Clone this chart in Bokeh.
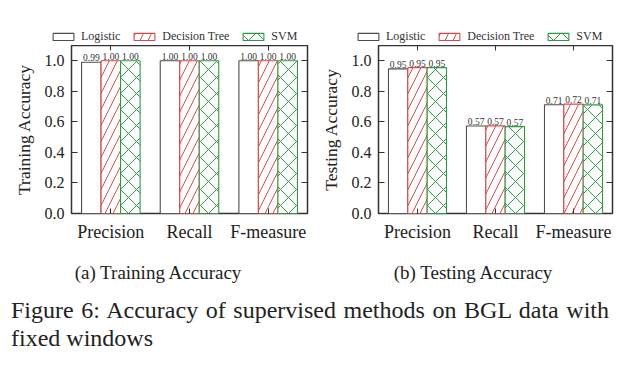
from bokeh.plotting import figure
from bokeh.models import (FactorRange, Range1d, FixedTicker, LinearAxis, CategoricalAxis,
                          Legend, LegendItem, ColumnDataSource, Div, PrintfTickFormatter,
                          CustomJSTickFormatter, Spacer)
from bokeh.transform import dodge
from bokeh.layouts import column, row
from bokeh.embed import file_html
from bokeh.resources import INLINE
from bokeh.core.properties import value

# ---------------- data ----------------
categories = ["Precision", "Recall", "F-measure"]
series_names = ["Logistic", "Decision Tree", "SVM"]

train_logistic = [0.99, 1.00, 1.00]
train_dtree = [1.00, 1.00, 1.00]
train_svm = [1.00, 1.00, 1.00]

test_logistic = [0.947, 0.573, 0.712]
test_dtree = [0.955, 0.574, 0.716]
test_svm = [0.955, 0.569, 0.711]

y_ticks = [0.0, 0.2, 0.4, 0.6, 0.8, 1.0]

FONT = "Liberation Serif"
RED = "#d84a4a"
GREEN = "#2e9a44"
GRAY = "#4d4d4d"
BW = 0.248

styles = [
    dict(line_color=GRAY, fill_color="white"),
    dict(line_color=RED, fill_color="white", hatch_pattern="/", hatch_color=RED,
         hatch_scale=16, hatch_weight=1),
    dict(line_color=GREEN, fill_color="white", hatch_pattern="x", hatch_color=GREEN,
         hatch_scale=16, hatch_weight=1),
]
offsets = [-BW, 0.0, BW]

train_series = [train_logistic, train_dtree, train_svm]
test_series = [test_logistic, test_dtree, test_svm]


def make_legend_strip():
    # one strip above both panels holding the two legends; the series are drawn
    # against a y-range that hides the bars, so only the legend entries show
    lf = figure(width=617, height=37, x_range=FactorRange(factors=categories),
                y_range=Range1d(5, 6), x_axis_type=None, y_axis_type=None,
                output_backend="svg", toolbar_location=None, min_border_left=0,
                min_border_right=0, min_border_top=0, min_border_bottom=0)
    lf.outline_line_color = None
    lf.xgrid.grid_line_color = None
    lf.ygrid.grid_line_color = None
    for series, loc in ((train_series, (42, 1)), (test_series, (347, 1))):
        items = []
        for name, vals, off, st in zip(series_names, series, offsets, styles):
            src = ColumnDataSource(dict(cat=categories, val=vals))
            r = lf.vbar(x=dodge("cat", off, range=lf.x_range), top="val", width=BW,
                        source=src, line_width=1.1, **st)
            items.append(LegendItem(label=name, renderers=[r]))
        legend = Legend(items=items, orientation="horizontal", location=loc,
                        margin=0, padding=1, spacing=11, glyph_width=26,
                        glyph_height=9, label_height=12, label_standoff=5,
                        label_text_font=FONT, label_text_font_size="12px",
                        label_text_color="#333333",
                        border_line_color=None, background_fill_alpha=0)
        lf.add_layout(legend, "center")
    return lf


def make_chart(ylabel, series, width):
    p = figure(x_range=FactorRange(factors=categories), y_range=Range1d(0, 1.1),
               width=width, height=205, output_backend="svg", toolbar_location=None,
               min_border_left=63, min_border_right=8, min_border_top=0,
               min_border_bottom=37)
    p.xgrid.grid_line_color = None
    p.ygrid.grid_line_color = None
    p.outline_line_color = "#333333"
    p.outline_line_width = 1.5
    p.outline_line_alpha = 1.0
    p.background_fill_color = "white"
    p.border_fill_color = "white"

    for name, vals, off, st in zip(series_names, series, offsets, styles):
        src = ColumnDataSource(dict(cat=categories, val=vals,
                                    lab=[f"{v:.2f}" for v in vals]))
        p.vbar(x=dodge("cat", off, range=p.x_range), top="val", width=BW,
               source=src, line_width=1.1, **st)
        p.text(x=dodge("cat", off, range=p.x_range), y="val", text="lab", source=src,
               text_font=value(FONT), text_font_size="9.5px", text_align="center",
               text_baseline="bottom", y_offset=-1, text_color="#333333")

    p.yaxis.ticker = FixedTicker(ticks=y_ticks)
    p.yaxis.formatter = PrintfTickFormatter(format="%.1f")
    p.yaxis.major_tick_in = 6
    p.yaxis.major_tick_out = 0
    p.yaxis.minor_tick_line_color = None
    p.yaxis.axis_line_color = None
    p.yaxis.major_tick_line_color = "#333333"
    p.yaxis.major_label_text_font = FONT
    p.yaxis.major_label_text_font_size = "16px"
    p.yaxis.major_label_text_color = "#222222"
    p.yaxis.major_label_standoff = 7
    p.yaxis.axis_label = ylabel
    p.yaxis.axis_label_text_font = FONT
    p.yaxis.axis_label_text_font_size = "17.5px"
    p.yaxis.axis_label_text_font_style = "normal"
    p.yaxis.axis_label_text_color = "#222222"
    p.yaxis.axis_label_standoff = 8

    p.xaxis.major_tick_in = 5
    p.xaxis.major_tick_out = 0
    p.xaxis.major_tick_line_color = "#333333"
    p.xaxis.minor_tick_line_color = None
    p.xaxis.axis_line_color = None
    p.xaxis.major_label_text_font = FONT
    p.xaxis.major_label_text_font_size = "18px"
    p.xaxis.major_label_text_color = "#222222"
    p.xaxis.major_label_standoff = 8

    # mirrored inward ticks on the right and top edges of the frame
    mirror_y = LinearAxis(ticker=FixedTicker(ticks=y_ticks), major_tick_in=6,
                          major_tick_out=0, minor_tick_line_color=None,
                          axis_line_color=None, major_tick_line_color="#333333",
                          formatter=CustomJSTickFormatter(code="return ''"),
                          major_label_standoff=0)
    p.add_layout(mirror_y, "right")
    mirror_x = CategoricalAxis(major_tick_in=5, major_tick_out=0,
                               axis_line_color=None, major_tick_line_color="#333333",
                               major_label_text_color=None,
                               major_label_text_font_size="1px",
                               major_label_standoff=0)
    p.add_layout(mirror_x, "above")
    return p


strip = make_legend_strip()
p1 = make_chart("Training Accuracy", train_series, 307)
p2 = make_chart("Testing Accuracy", test_series, 305)

caption_html = (
    "<div style=\"position:relative;width:617px;height:100px;"
    "font-family:'Liberation Serif';color:#222;\">"
    "<div style=\"position:absolute;left:45px;top:7px;width:200px;text-align:center;"
    "font-size:19px;line-height:22px;white-space:nowrap;\">(a) Training Accuracy</div>"
    "<div style=\"position:absolute;left:360px;top:7px;width:200px;text-align:center;"
    "font-size:19px;line-height:22px;white-space:nowrap;\">(b) Testing Accuracy</div>"
    "<div style=\"position:absolute;left:-2px;top:41px;width:598px;font-size:24px;"
    "line-height:28.4px;text-align:justify;\">Figure 6: Accuracy of supervised methods "
    "on BGL data with fixed windows</div>"
    "</div>"
)
captions = Div(text=caption_html, width=617, height=100)

inner = column(strip, row(p1, p2), captions)
layout = column(Spacer(width=8, height=8), row(Spacer(width=8, height=8), inner))
open("out.html", "w").write(file_html(layout, INLINE))
